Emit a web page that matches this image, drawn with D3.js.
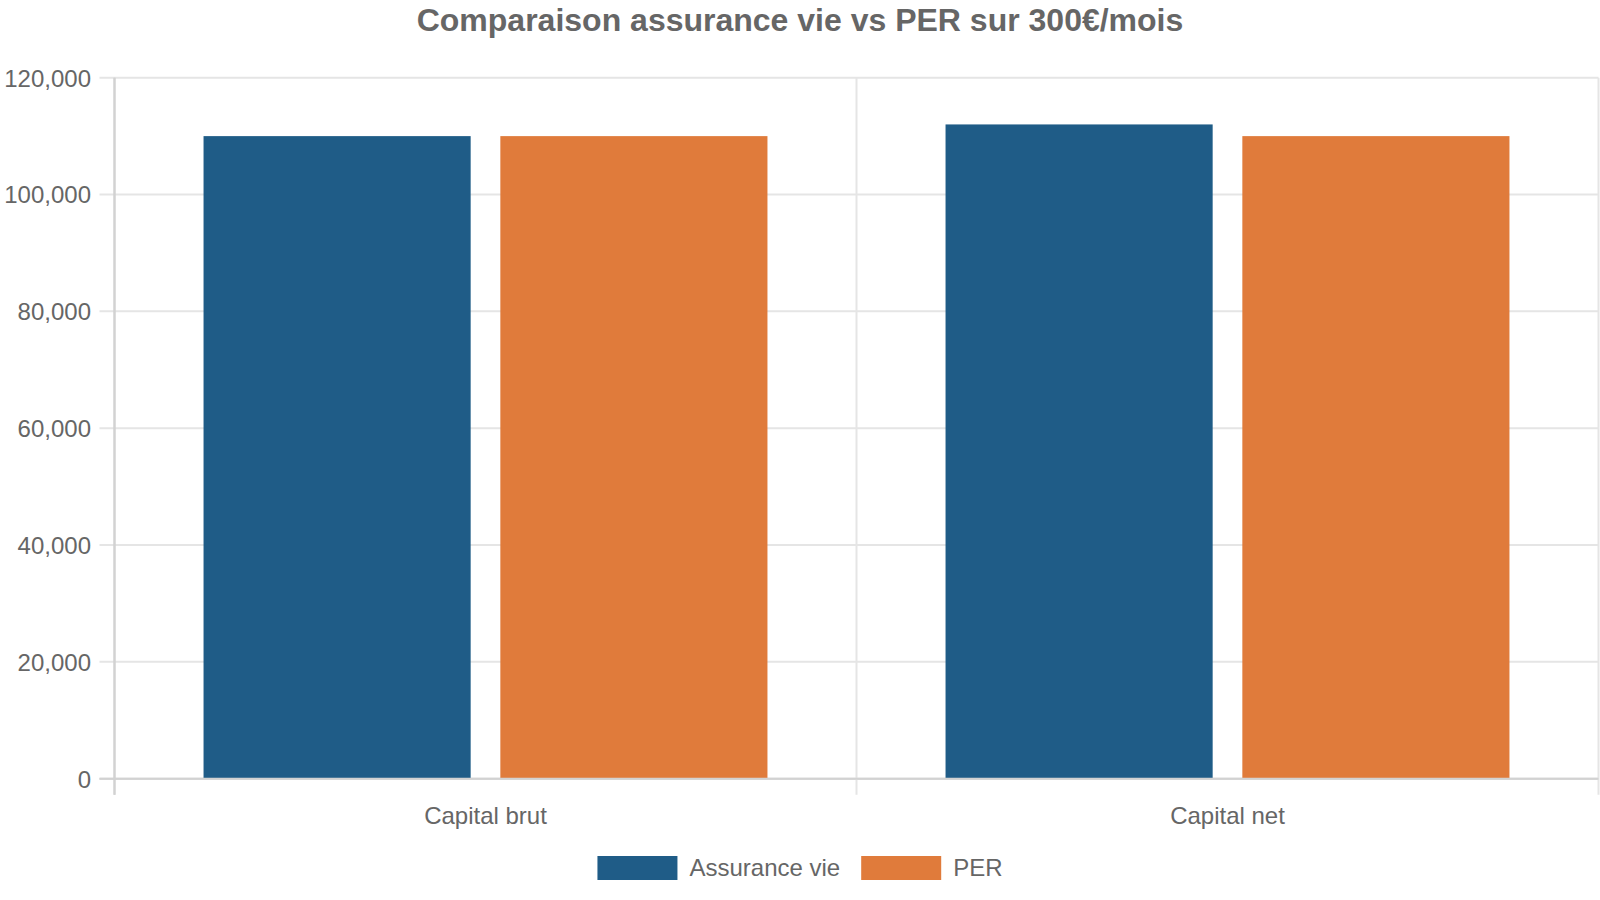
<!DOCTYPE html>
<html>
<head>
<meta charset="utf-8">
<script src="https://cdn.jsdelivr.net/npm/d3@7"></script>
<style>
  html, body { margin: 0; padding: 0; background: #ffffff; }
  svg { display: block; font-family: "Liberation Sans", Arial, Helvetica, sans-serif; }
</style>
</head>
<body>
<svg id="chart" width="1600" height="900"></svg>
<script>
const title = "Comparaison assurance vie vs PER sur 300€/mois";
const categories = ["Capital brut", "Capital net"];
const seriesNames = ["Assurance vie", "PER"];
const assuranceVie = [110000, 112000];
const per = [110000, 110000];
const yTicks = [0, 20000, 40000, 60000, 80000, 100000, 120000];
const colors = ["#1f5c87", "#e07b3b"];

const seriesValues = [assuranceVie, per];
const W = 1600, H = 900;
const margin = { left: 114.5, right: 1.5, top: 77.7, bottom: 121.3 };
const svg = d3.select("#chart");
const textColor = "#666666";

const x0 = d3.scaleBand().domain(categories).range([margin.left, W - margin.right]).padding(0);
const x1 = d3.scaleBand().domain(seriesNames)
  .range([x0.bandwidth() * 0.1, x0.bandwidth() * 0.9])
  .paddingInner(0.1).paddingOuter(0.05);
const y = d3.scaleLinear().domain([0, 120000]).range([H - margin.bottom, margin.top]);

// horizontal grid lines + tick marks
const yAxis = d3.axisLeft(y).tickValues(yTicks).tickSize(0).tickFormat(d3.format(","));
svg.append("g").selectAll("line.hgrid").data(yTicks).join("line")
  .attr("x1", margin.left - 15).attr("x2", W - margin.right)
  .attr("y1", d => y(d)).attr("y2", d => y(d))
  .attr("stroke", d => d === 0 ? "#d2d2d2" : "#e5e5e5").attr("stroke-width", 2);

// vertical grid lines at category boundaries
const bounds = categories.map(c => x0(c)).concat([x0(categories[categories.length - 1]) + x0.bandwidth()]);
svg.append("g").selectAll("line.vgrid").data(bounds).join("line")
  .attr("x1", d => d).attr("x2", d => d)
  .attr("y1", margin.top).attr("y2", y(0) + 16)
  .attr("stroke", (d, i) => i === 0 ? "#d2d2d2" : "#e5e5e5").attr("stroke-width", 2);

// bars
const groups = svg.append("g").selectAll("g.cat").data(categories).join("g")
  .attr("transform", c => `translate(${x0(c)},0)`);
groups.selectAll("rect").data((c, ci) => seriesNames.map((s, si) => ({ s, si, v: seriesValues[si][ci] })))
  .join("rect")
  .attr("x", d => x1(d.s)).attr("width", x1.bandwidth())
  .attr("y", d => y(d.v)).attr("height", d => y(0) - y(d.v))
  .attr("fill", d => colors[d.si]);

// redraw zero baseline over bars
svg.append("line").attr("x1", margin.left - 15).attr("x2", W - margin.right)
  .attr("y1", y(0)).attr("y2", y(0)).attr("stroke", "#d2d2d2").attr("stroke-width", 2);
svg.append("line").attr("x1", margin.left).attr("x2", margin.left)
  .attr("y1", margin.top).attr("y2", y(0) + 16).attr("stroke", "#d2d2d2").attr("stroke-width", 2);

// y axis labels via d3 axis
const gy = svg.append("g").attr("transform", `translate(${margin.left - 23.5},0)`).call(yAxis);
gy.select(".domain").remove();
gy.selectAll("text").attr("fill", textColor).attr("font-size", 24)
  .attr("font-family", "'Liberation Sans', Arial, sans-serif").attr("x", 0).attr("dy", "0.35em");

// x axis labels via d3 axis
const xAxis = d3.axisBottom(x0).tickSize(0);
const gx = svg.append("g").attr("transform", `translate(0,${y(0)})`).call(xAxis);
gx.select(".domain").remove();
gx.selectAll("text").attr("fill", textColor).attr("font-size", 24)
  .attr("font-family", "'Liberation Sans', Arial, sans-serif").attr("y", 45.5).attr("dy", 0);

// title
svg.append("text").attr("x", 800).attr("y", 31).attr("text-anchor", "middle")
  .attr("font-size", 32).attr("font-weight", "bold").attr("fill", textColor).text(title);

// legend
const legendY = 856, boxW = 80, boxH = 24, gapText = 12, gapItem = 21;
const lg = svg.append("g");
const tmp = svg.append("text").attr("font-size", 24);
const widths = seriesNames.map(s => { tmp.text(s); return tmp.node().getComputedTextLength(); });
tmp.remove();
const total = seriesNames.reduce((a, s, i) => a + boxW + gapText + widths[i], 0) + gapItem * (seriesNames.length - 1);
let cx = 800 - total / 2;
seriesNames.forEach((s, i) => {
  lg.append("rect").attr("x", cx).attr("y", legendY).attr("width", boxW).attr("height", boxH).attr("fill", colors[i]);
  lg.append("text").attr("x", cx + boxW + gapText).attr("y", legendY + boxH / 2).attr("dy", "0.35em")
    .attr("font-size", 24).attr("fill", textColor).text(s);
  cx += boxW + gapText + widths[i] + gapItem;
});
</script>
</body>
</html>
